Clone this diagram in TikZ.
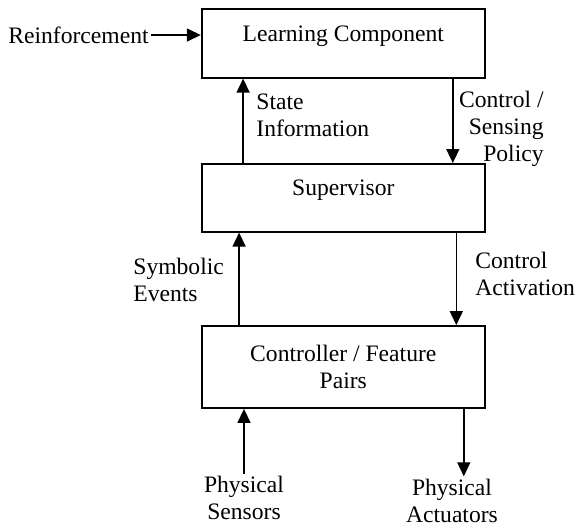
\documentclass[tikz,border=0pt]{standalone}
\usepackage{fontspec}
\setmainfont{Liberation Serif}
\usetikzlibrary{arrows.meta}

\begin{document}
\begin{tikzpicture}[x=0.5pt,y=-0.5pt,
  font=\fontsize{11.8}{13.5}\selectfont,
  box/.style={draw,line width=0.9pt,minimum width=141.6pt,inner sep=0pt,align=center},
  onebox/.style={box,text height=8pt,text depth=10pt},
  lbl/.style={inner sep=1pt},
  flow/.style={line width=0.75pt,-{Triangle[length=7pt,width=6.5pt]}}]

  \useasboundingbox (0,0) rectangle (578,527);

  % the three layers
  \node [onebox,minimum height=34.2pt] at (343.3,43.5) (learn) {Learning Component};
  \node [onebox,minimum height=33.9pt] at (343.3,197.8) (sup) {Supervisor};
  \node [box,minimum height=41pt] at (343.3,367) (ctrl) {Controller / Feature\\Pairs};

  % labels
  \node [lbl,anchor=east] at (151,35) (reinf) {Reinforcement};
  \node [lbl,anchor=west,align=left] at (254,115) (state) {State\\Information};
  \node [lbl,anchor=east,align=right] at (546,128.5) (policy) {Control /\\Sensing\\Policy};
  \node [lbl,anchor=west,align=left] at (131,279.5) (events) {Symbolic\\Events};
  \node [lbl,anchor=west,align=left] at (473,273.5) (activ) {Control\\Activation};
  \node [lbl,align=center] at (244,498) (sens) {Physical\\Sensors};
  \node [lbl,align=center] at (452,500.5) (act) {Physical\\Actuators};

  % connectors
  \draw [flow] (reinf.east) -- (reinf.east -| learn.west);
  \draw [flow] ([xshift=21.15pt]sup.north west) -- ([xshift=21.15pt]learn.south west);
  \draw [flow] ([xshift=-16.5pt]learn.south east) -- ([xshift=-16.5pt]sup.north east);
  \draw [flow] ([xshift=19.15pt]ctrl.north west) -- ([xshift=19.15pt]sup.south west);
  \draw [flow] ([xshift=-14.75pt]sup.south east) -- ([xshift=-14.75pt]ctrl.north east);
  \draw [flow] (sens.north) -- (sens.north |- ctrl.south);
  \draw [flow] ([xshift=-11pt]ctrl.south east) -- ([xshift=-11pt]ctrl.south east |- act.north);

\end{tikzpicture}
\end{document}
